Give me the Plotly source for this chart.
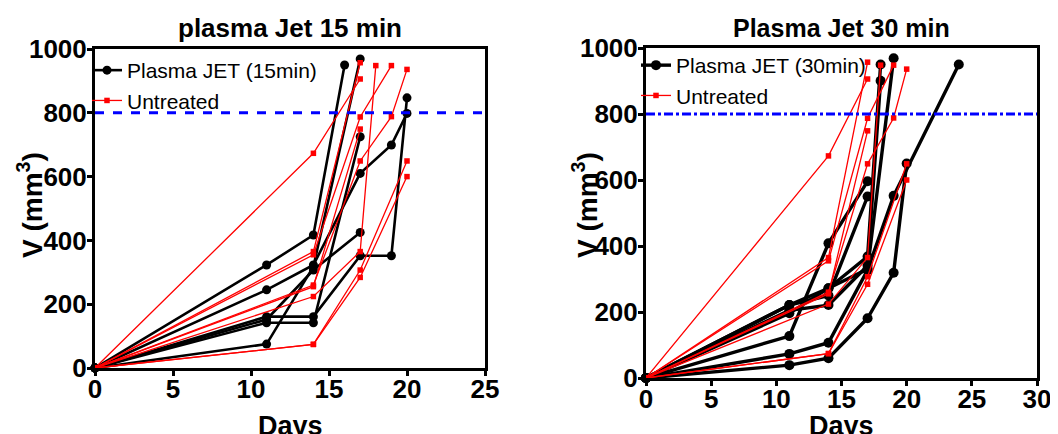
import plotly.graph_objects as go

# ---------------- data ----------------
# Untreated (same in both panels)
untreated_days = [
    [0, 14, 17],
    [0, 14, 17],
    [0, 14, 17, 19],
    [0, 14, 17],
    [0, 14, 17, 18],
    [0, 14, 17, 20],
    [0, 14, 17, 20],
    [0, 14, 17, 19, 20],
]
untreated_vol = [
    [0, 673, 906],
    [0, 365, 957],
    [0, 355, 787, 948],
    [0, 255, 749],
    [0, 224, 365, 948],
    [0, 74, 307, 649],
    [0, 74, 284, 600],
    [0, 260, 649, 788, 936],
]

# Plasma JET 15 min
jet15_days = [
    [0, 11, 14, 16],
    [0, 11, 14, 17, 19, 20],
    [0, 11, 14, 17],
    [0, 11, 14, 17, 19, 20],
    [0, 11, 14, 17],
    [0, 11, 14, 17],
]
jet15_vol = [
    [0, 323, 417, 950],
    [0, 245, 323, 610, 699, 798],
    [0, 152, 307, 425],
    [0, 161, 161, 352, 352, 847],
    [0, 75, 318, 969],
    [0, 142, 142, 725],
]

# Plasma JET 30 min
jet30_days = [
    [0, 11, 14, 17, 19, 20],
    [0, 11, 14, 17, 19, 24],
    [0, 11, 14, 17],
    [0, 11, 14, 17],
    [0, 11, 14, 17, 18],
    [0, 11, 14, 17, 18],
    [0, 11, 14, 17, 19],
]
jet30_vol = [
    [0, 39, 60, 181, 319, 650],
    [0, 73, 107, 327, 552, 950],
    [0, 127, 408, 596],
    [0, 221, 250, 550],
    [0, 196, 272, 368, 950],
    [0, 205, 221, 340, 901],
    [0, 221, 272, 330, 969],
]

threshold = 800
titles = ["plasma Jet 15 min", "Plasma Jet 30 min"]
legend_names_jet = ["Plasma JET (15min)", "Plasma JET (30min)"]
legend_name_untreated = "Untreated"
x_ticks = [[0, 5, 10, 15, 20, 25], [0, 5, 10, 15, 20, 25, 30]]
y_ticks = [0, 200, 400, 600, 800, 1000]

FONT = "Liberation Sans, Arial, sans-serif"
# the page body has an 8px margin: figure drawn at (8, 8)
OFF = 8
W, H = 1058 - OFF, 434 - OFF


def px(sx):
    return (sx - OFF) / W


def py(sy):
    return 1 - (sy - OFF) / H


fig = go.Figure()

panels = [
    dict(jd=jet15_days, jv=jet15_vol, xa="x", ya="y", leg="legend", lw=2.6, ms=9),
    dict(jd=jet30_days, jv=jet30_vol, xa="x2", ya="y2", leg="legend2", lw=3.4, ms=10),
]

for p_i, p in enumerate(panels):
    # black series
    for i, (d, v) in enumerate(zip(p["jd"], p["jv"])):
        fig.add_trace(go.Scatter(
            x=d, y=v, mode="lines+markers", xaxis=p["xa"], yaxis=p["ya"],
            line=dict(color="black", width=p["lw"]),
            marker=dict(symbol="circle", size=p["ms"], color="black"),
            name=legend_names_jet[p_i],
            showlegend=(i == 0), legend=p["leg"], cliponaxis=False,
        ))
    # red series
    for i, (d, v) in enumerate(zip(untreated_days, untreated_vol)):
        fig.add_trace(go.Scatter(
            x=d, y=v, mode="lines+markers", xaxis=p["xa"], yaxis=p["ya"],
            line=dict(color="#ff0000", width=1.3),
            marker=dict(symbol="square", size=5.5, color="#ff0000"),
            name=legend_name_untreated,
            showlegend=(i == 0), legend=p["leg"], cliponaxis=False,
        ))

# threshold lines
fig.add_shape(type="line", xref="x domain", yref="y", x0=0, x1=1, y0=threshold, y1=threshold,
              line=dict(color="#0000ff", width=3, dash="dash"))
fig.add_shape(type="line", xref="x2 domain", yref="y2", x0=0, x1=1, y0=threshold, y1=threshold,
              line=dict(color="#0000ff", width=3, dash="dashdot"))

axis_common = dict(
    showline=True, linecolor="black", linewidth=3, mirror=True,
    ticks="outside", ticklen=5, tickwidth=2.5, tickcolor="black",
    showgrid=False, zeroline=False,
    tickfont=dict(family=FONT, size=26, color="black", weight="bold"),
)

fig.update_layout(
    width=W, height=H,
    margin=dict(l=0, r=0, t=0, b=0, autoexpand=False),
    plot_bgcolor="white", paper_bgcolor="white",
    font=dict(family=FONT, color="black"),
    xaxis=dict(domain=[px(95), px(485)], range=[0, 25], tickvals=x_ticks[0], anchor="y",
               ticklabelstandoff=-9, **axis_common),
    yaxis=dict(domain=[py(368), py(49)], range=[0, 1000], tickvals=y_ticks, anchor="x",
               ticklabelstandoff=-5, **axis_common),
    xaxis2=dict(domain=[px(646), px(1037)], range=[0, 30], tickvals=x_ticks[1], anchor="y2",
                ticklabelstandoff=-9, **axis_common),
    yaxis2=dict(domain=[py(378), py(48)], range=[0, 1000], tickvals=y_ticks, anchor="x2",
                ticklabelstandoff=-5, **axis_common),
    legend=dict(x=px(87), y=py(50), xanchor="left", yanchor="top",
                bgcolor="rgba(0,0,0,0)", borderwidth=0, itemwidth=30,
                font=dict(family=FONT, size=21, color="black"), tracegroupgap=0),
    legend2=dict(x=px(636), y=py(45), xanchor="left", yanchor="top",
                 bgcolor="rgba(0,0,0,0)", borderwidth=0, itemwidth=30,
                 font=dict(family=FONT, size=21, color="black"), tracegroupgap=0),
    showlegend=True,
)

ann_bold = dict(family=FONT, color="black", weight="bold")
annotations = [
    dict(text=titles[0], x=px(290), y=py(28), font=dict(size=26, **ann_bold)),
    dict(text=titles[1], x=px(841), y=py(28), font=dict(size=25, **ann_bold)),
    dict(text="Days", x=px(290), y=py(409), yanchor="top", font=dict(size=27, **ann_bold)),
    dict(text="Days", x=px(841), y=py(409), yanchor="top", font=dict(size=27, **ann_bold)),
    dict(text="V (mm<sup>3</sup>)", x=px(30), y=py(205), textangle=-90, font=dict(size=28, **ann_bold)),
    dict(text="V (mm<sup>3</sup>)", x=px(585), y=py(205), textangle=-90, font=dict(size=28, **ann_bold)),
]
for a in annotations:
    a.update(xref="paper", yref="paper", showarrow=False)
    a.setdefault("yanchor", "middle")
    a["xanchor"] = "center"
fig.update_layout(annotations=annotations)

fig.write_html("out.html")
